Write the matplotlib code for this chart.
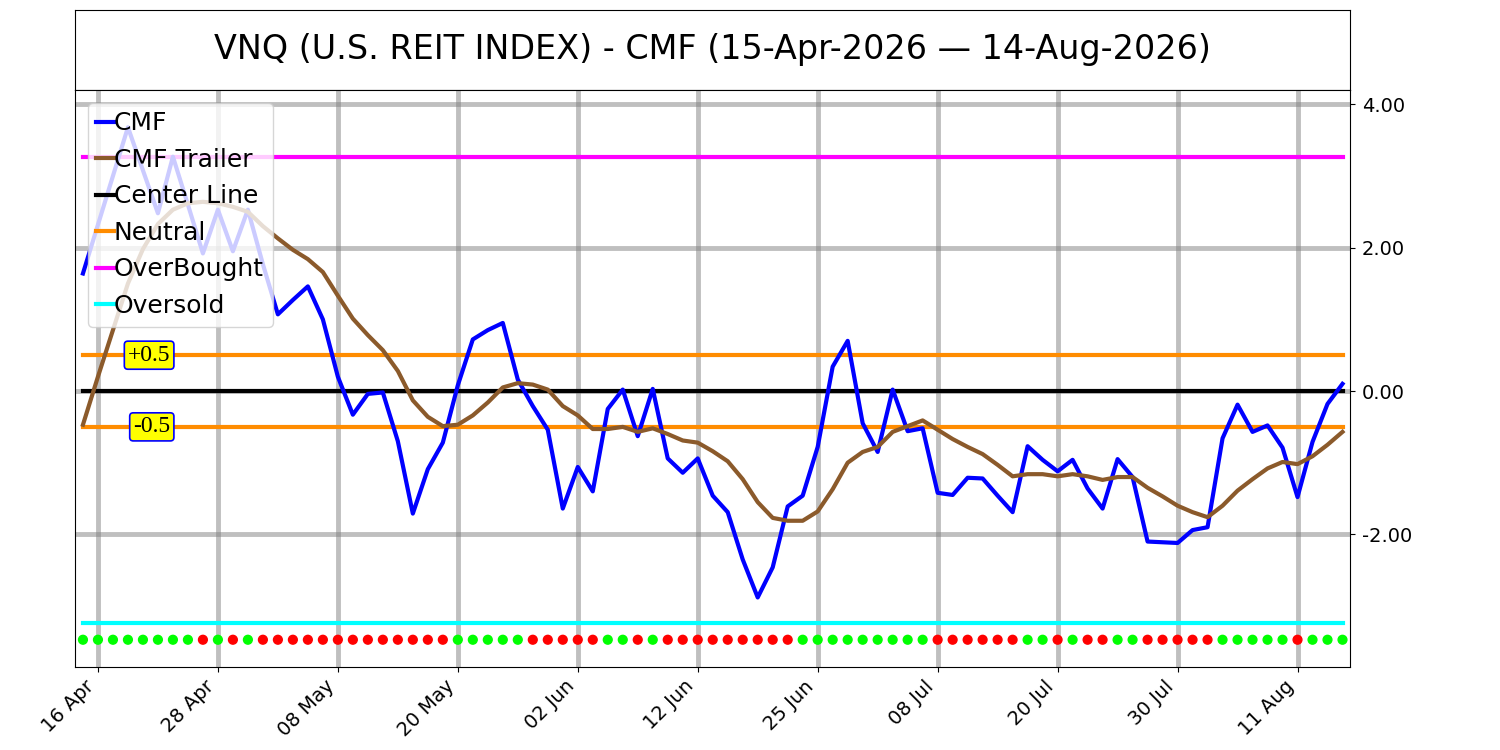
import matplotlib
matplotlib.use("Agg")
import matplotlib.pyplot as plt
import numpy as np
import pandas as pd

TITLE = "VNQ (U.S. REIT INDEX) - CMF (15-Apr-2026 \u2014 14-Aug-2026)"

# trading days (NYSE holidays skipped)
holidays = ["2026-05-25", "2026-06-19", "2026-07-03"]
dates = pd.bdate_range("2026-04-15", "2026-08-14", freq="C", holidays=holidays)

cmf = [1.64, 2.32, 3.00, 3.68, 3.08, 2.48, 3.27, 2.60, 1.92, 2.53,
       1.95, 2.53, 1.77, 1.07, 1.27, 1.46, 1.00, 0.20, -0.33, -0.04,
       -0.02, -0.70, -1.71, -1.09, -0.72, 0.08, 0.72, 0.85, 0.95, 0.16,
       -0.21, -0.54, -1.64, -1.06, -1.40, -0.25, 0.02, -0.63, 0.03, -0.94,
       -1.14, -0.94, -1.46, -1.69, -2.35, -2.88, -2.46, -1.61, -1.46, -0.78,
       0.34, 0.70, -0.45, -0.85, 0.02, -0.56, -0.52, -1.42, -1.45, -1.21,
       -1.22, -1.46, -1.69, -0.77, -0.96, -1.12, -0.96, -1.36, -1.64, -0.95,
       -1.20, -2.10, -2.11, -2.12, -1.94, -1.90, -0.66, -0.19, -0.57, -0.48,
       -0.79, -1.48, -0.71, -0.18, 0.10]

trailer = [-0.47, 0.20, 0.85, 1.50, 1.98, 2.33, 2.53, 2.62, 2.64, 2.62,
           2.57, 2.50, 2.30, 2.13, 1.97, 1.84, 1.66, 1.33, 1.01, 0.78,
           0.57, 0.28, -0.13, -0.36, -0.49, -0.47, -0.34, -0.16, 0.05, 0.11,
           0.09, 0.02, -0.21, -0.34, -0.53, -0.53, -0.50, -0.57, -0.52, -0.60,
           -0.69, -0.72, -0.84, -0.98, -1.23, -1.55, -1.77, -1.81, -1.81, -1.68,
           -1.37, -1.00, -0.85, -0.78, -0.57, -0.49, -0.41, -0.54, -0.67, -0.78,
           -0.88, -1.03, -1.19, -1.16, -1.16, -1.19, -1.16, -1.19, -1.24, -1.20,
           -1.20, -1.35, -1.47, -1.60, -1.69, -1.76, -1.60, -1.39, -1.23, -1.08,
           -0.99, -1.02, -0.91, -0.75, -0.57]

# G = CMF above trailer, R = below
signal = list("GGGGGGGGRGRG" + "R" * 13 + "GGGGG" + "RRRRR" + "GGRG" + "R" * 9
              + "G" * 9 + "RRRRRR" + "GGRGRRGG" + "RRRRR" + "GGGGG" + "RGGG")

center = 0.0
neutral = 0.5
overbought = 3.26
oversold = -3.24
dot_level = -3.47


def main():
    n = len(dates)
    x = np.arange(n)

    fig = plt.figure(figsize=(15, 7.5), dpi=100)
    tax = fig.add_axes([0.05, 0.88, 0.85, 0.1067])
    tax.set_xticks([])
    tax.set_yticks([])
    tax.text(0.5, 0.5, TITLE, ha="center", va="center", fontsize=24)

    ax = fig.add_axes([0.05, 0.1107, 0.85, 0.7693])
    ax.plot(x, cmf, color="blue", lw=3, label="CMF", zorder=4)
    ax.plot(x, trailer, color="#8b5a2b", lw=3, label="CMF Trailer", zorder=4)
    ax.plot(x, [center] * n, color="black", lw=3, label="Center Line", zorder=3)
    ax.plot(x, [neutral] * n, color="#ff8c00", lw=3, label="Neutral", zorder=3)
    ax.plot(x, [-neutral] * n, color="#ff8c00", lw=3, zorder=3)
    ax.plot(x, [overbought] * n, color="magenta", lw=3, label="OverBought", zorder=3)
    ax.plot(x, [oversold] * n, color="cyan", lw=3, label="Oversold", zorder=3)

    colors = ["#00ff00" if s == "G" else "red" for s in signal]
    ax.scatter(x, [dot_level] * n, c=colors, s=40, zorder=4)

    box = dict(boxstyle="round,pad=0.15", fc="yellow", ec="blue", lw=1.2)
    ax.text(5.83, neutral, "+0.5", ha="right", va="center", fontsize=17,
            family="Liberation Serif", bbox=box, zorder=5)
    ax.text(5.83, -neutral, "-0.5", ha="right", va="center", fontsize=17,
            family="Liberation Serif", bbox=box, zorder=5)

    ax.set_xlim(-0.53, 84.5)
    ax.set_ylim(-3.85, 4.2)

    ticks = list(range(1, n, 8))
    ax.set_xticks(ticks)
    ax.set_xticklabels([dates[i].strftime("%d %b") for i in ticks],
                       rotation=45, ha="right", fontsize=14)
    ax.set_yticks([-2, 0, 2, 4])
    ax.set_yticklabels(["%.2f" % v for v in [-2, 0, 2, 4]], fontsize=14)
    ax.yaxis.tick_right()
    ax.tick_params(axis="y", pad=5)
    ax.grid(True, color="gray", alpha=0.5, lw=3.5)

    ax.legend(loc="upper left", fontsize=18, handlelength=0.7,
              handletextpad=0.0, borderpad=0.35, labelspacing=0.5,
              borderaxespad=0.5)

    fig.savefig("out.png", dpi=100)


main()
